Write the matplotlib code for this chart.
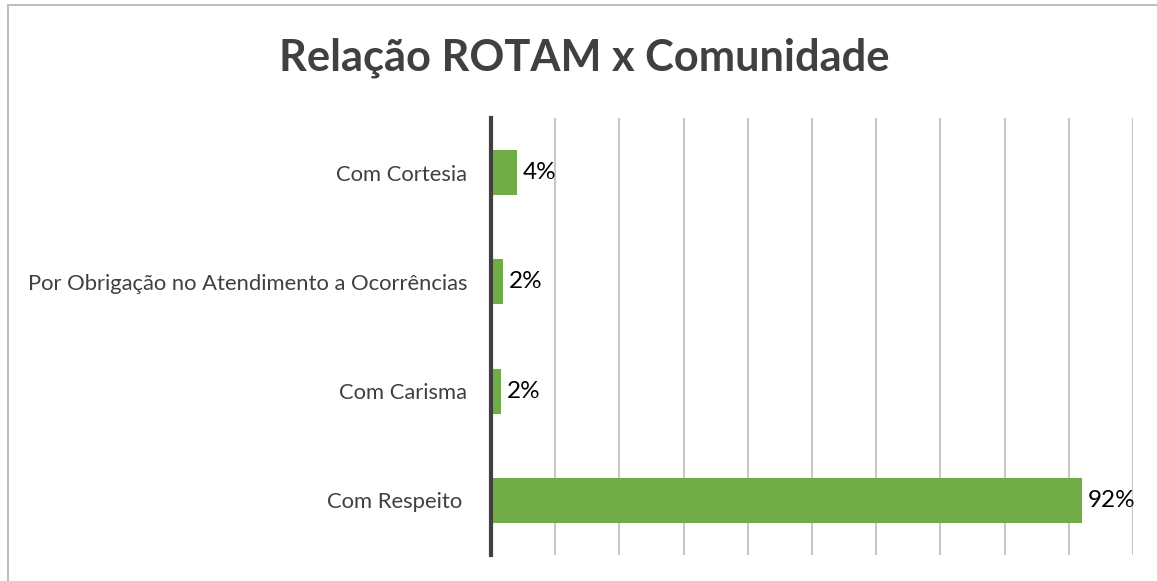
import matplotlib.pyplot as plt
from matplotlib.patches import Rectangle

categories = ['Com Respeito ', 'Com Carisma', 'Por Obrigação no Atendimento a Ocorrências', 'Com Cortesia']
values = [0.92, 0.016, 0.019, 0.04]

fig = plt.figure(figsize=(11.57, 5.81), dpi=100)
ax = fig.add_axes([491 / 1157, 1 - 555 / 581, 642 / 1157, 437 / 581])

# moldura cinza em volta do gráfico
fig.patches.append(Rectangle((8 / 1157, -0.05), 1.1, 1 - 5.5 / 581 + 0.05, transform=fig.transFigure,
                             fill=False, edgecolor='#bfbfbf', linewidth=1.5))

y = range(len(categories))
ax.barh(y, values, height=0.41, color='#70ad47', zorder=3)
for i, v in enumerate(values):
    ax.text(v + 0.009, i, f'{v:.0%}', va='center', ha='left', fontsize=17.5,
            family='Lato', color='black')

ax.set_xlim(0, 1)
ax.set_ylim(-0.5, len(categories) - 0.5)
ax.set_xticks([i / 10 for i in range(11)])
ax.set_xticklabels([])
ax.tick_params(axis='x', length=0)
ax.grid(axis='x', color='#c8c8c8', linewidth=1.5, zorder=0)
ax.set_yticks(list(y))
ax.set_yticklabels(categories, fontsize=15.8, family='Lato', color='#404040')
ax.tick_params(axis='y', length=0, pad=17)
for s in ['top', 'right', 'bottom']:
    ax.spines[s].set_visible(False)
ax.spines['left'].set_color('#404040')
ax.spines['left'].set_linewidth(3)
ax.spines['left'].set_zorder(4)

fig.text(584 / 1157, 1 - 58 / 581, 'Relação ROTAM x Comunidade', ha='center', va='center',
         fontsize=31.2, fontweight='bold', family='Lato', color='#404040')

fig.savefig('out.png', dpi=100)
